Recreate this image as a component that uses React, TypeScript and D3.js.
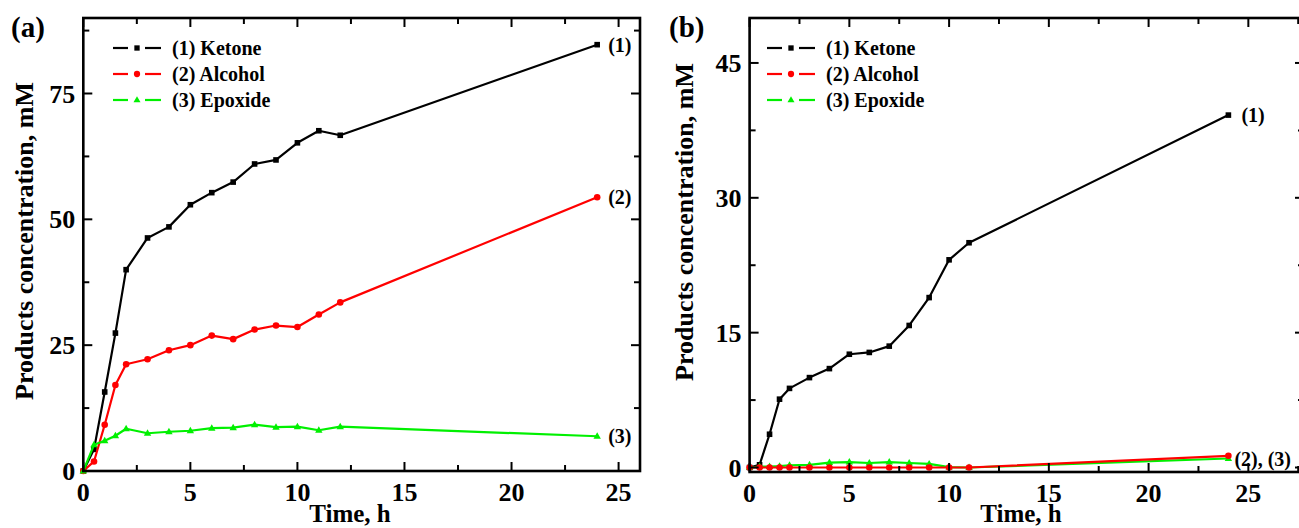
import React from 'react';
import * as d3 from 'd3';

// ---------- DATA ----------
const timesA = [0, 0.5, 1, 1.5, 2, 3, 4, 5, 6, 7, 8, 9, 10, 11, 12, 24];
const ketoneA = [0, 4.3, 15.7, 27.4, 40.0, 46.3, 48.5, 52.9, 55.3, 57.4, 61.0, 61.8, 65.2, 67.6, 66.7, 84.7];
const alcoholA = [0, 1.9, 9.2, 17.1, 21.2, 22.2, 24.0, 25.0, 26.9, 26.2, 28.1, 28.9, 28.6, 31.1, 33.5, 54.4];
const epoxideA = [0, 5.2, 6.0, 7.0, 8.4, 7.5, 7.8, 8.0, 8.5, 8.6, 9.2, 8.7, 8.8, 8.1, 8.8, 6.9];

const timesB = [0, 0.5, 1, 1.5, 2, 3, 4, 5, 6, 7, 8, 9, 10, 11, 24];
const ketoneB = [0, 0.3, 3.7, 7.6, 8.8, 10.0, 11.0, 12.6, 12.8, 13.5, 15.8, 18.9, 23.1, 25.0, 39.2];
const alcoholB = [0, 0, 0, 0, 0, 0, 0, 0, 0, 0, 0, 0, 0, 0, 1.3];
const epoxideB = [0, 0.1, 0.1, 0.15, 0.25, 0.3, 0.55, 0.6, 0.5, 0.6, 0.5, 0.4, 0.05, 0, 1.0];

const seriesNames = ['(1) Ketone', '(2) Alcohol', '(3) Epoxide'];
const xMajorTicks = [0, 5, 10, 15, 20, 25];
const xMinorTicks = [2.5, 7.5, 12.5, 17.5, 22.5, 27.5];
const yMajorA = [0, 25, 50, 75];
const yMinorA = [12.5, 37.5, 62.5, 87.5];
const yMajorB = [0, 15, 30, 45];
const yMinorB = [7.5, 22.5, 37.5];
const xTitle = 'Time, h';
const yTitle = 'Products concentration, mM';

// ---------- STYLE ----------
const FONT = "'Liberation Serif', 'Times New Roman', Times, serif";
const COLORS = ['#000000', '#ff0000', '#00f000'];
const SHAPES = ['square', 'circle', 'triangle'];

function Marker({ shape, x, y, color, size = 1 }: any) {
  if (shape === 'square') {
    const s = 5.6 * size;
    return <rect x={x - s / 2} y={y - s / 2} width={s} height={s} fill={color} />;
  }
  if (shape === 'circle') {
    return <circle cx={x} cy={y} r={3.3 * size} fill={color} />;
  }
  const s = 7.4 * size;
  const h = s * 0.87;
  return (
    <path
      d={`M${x},${y - h * 0.62} L${x + s / 2},${y + h * 0.38} L${x - s / 2},${y + h * 0.38} Z`}
      fill={color}
    />
  );
}

function Panel(props: any) {
  const {
    left, right, top, bottom, xDomain, yDomain, times, series, yMajor, yMinor,
    letter, letterX, yTitleX, yTitleY, xTitleX, legendX, endLabels, drawOrder,
  } = props;
  const x = d3.scaleLinear().domain(xDomain).range([left, right]);
  const y = d3.scaleLinear().domain(yDomain).range([bottom, top]);
  const line = d3
    .line<number>()
    .x((_, i) => x(times[i]))
    .y((d) => y(d));
  const MAJ = 9;
  const MIN = 6;
  const xMinorIn = xMinorTicks.filter((t) => t <= xDomain[1]);

  return (
    <g>
      {/* data */}
      {drawOrder.map((si: number) => (
        <g key={si}>
          <path d={line(series[si]) || ''} fill="none" stroke={COLORS[si]} strokeWidth={2.2} strokeLinejoin="round" />
          {series[si].map((v: number, i: number) => (
            <Marker key={i} shape={SHAPES[si]} x={x(times[i])} y={y(v)} color={COLORS[si]} />
          ))}
        </g>
      ))}

      {/* ticks */}
      {xMajorTicks.map((t) => (
        <g key={'xm' + t}>
          <line x1={x(t)} x2={x(t)} y1={bottom} y2={bottom - MAJ} stroke="#000" strokeWidth={2} />
          <line x1={x(t)} x2={x(t)} y1={top} y2={top + MAJ} stroke="#000" strokeWidth={2} />
          <text x={x(t)} y={bottom + 30} textAnchor="middle" fontFamily={FONT} fontWeight="bold" fontSize={26}>
            {t}
          </text>
        </g>
      ))}
      {xMinorIn.map((t) => (
        <g key={'xn' + t}>
          <line x1={x(t)} x2={x(t)} y1={bottom} y2={bottom - MIN} stroke="#000" strokeWidth={2} />
          <line x1={x(t)} x2={x(t)} y1={top} y2={top + MIN} stroke="#000" strokeWidth={2} />
        </g>
      ))}
      {yMajor.map((t: number) => (
        <g key={'ym' + t}>
          <line x1={left} x2={left + MAJ} y1={y(t)} y2={y(t)} stroke="#000" strokeWidth={2} />
          <line x1={right} x2={right - MAJ} y1={y(t)} y2={y(t)} stroke="#000" strokeWidth={2} />
          <text x={left - 8} y={y(t)} dy="0.35em" textAnchor="end" fontFamily={FONT} fontWeight="bold" fontSize={26}>
            {t}
          </text>
        </g>
      ))}
      {yMinor.map((t: number) => (
        <g key={'yn' + t}>
          <line x1={left} x2={left + MIN} y1={y(t)} y2={y(t)} stroke="#000" strokeWidth={2} />
          <line x1={right} x2={right - MIN} y1={y(t)} y2={y(t)} stroke="#000" strokeWidth={2} />
        </g>
      ))}

      {/* frame */}
      <rect x={left} y={top} width={right - left} height={bottom - top} fill="none" stroke="#000" strokeWidth={2.6} />

      {/* legend */}
      {seriesNames.map((name, i) => {
        const cy = 48 + i * 26;
        return (
          <g key={name}>
            <line x1={legendX} x2={legendX + 15} y1={cy} y2={cy} stroke={COLORS[i]} strokeWidth={2.2} />
            <line x1={legendX + 32} x2={legendX + 48} y1={cy} y2={cy} stroke={COLORS[i]} strokeWidth={2.2} />
            <Marker shape={SHAPES[i]} x={legendX + 24} y={cy} color={COLORS[i]} size={0.95} />
            <text x={legendX + 59} y={cy} dy="0.35em" fontFamily={FONT} fontWeight="bold" fontSize={20}>
              {name}
            </text>
          </g>
        );
      })}

      {/* end labels */}
      {endLabels.map((l: any) => (
        <text
          key={l.text}
          x={x(times[times.length - 1]) + l.dx}
          y={y(series[l.si][series[l.si].length - 1]) + (l.dy || 0)}
          dy="0.35em"
          fontFamily={FONT}
          fontWeight="bold"
          fontSize={20}
        >
          {l.text}
        </text>
      ))}

      {/* titles */}
      <text x={letterX} y={37} fontFamily={FONT} fontWeight="bold" fontSize={29}>
        {letter}
      </text>
      <text x={xTitleX} y={522} textAnchor="middle" fontFamily={FONT} fontWeight="bold" fontSize={25}>
        {xTitle}
      </text>
      <text
        transform={`translate(${yTitleX},${yTitleY}) rotate(-90)`}
        textAnchor="middle"
        fontFamily={FONT}
        fontWeight="bold"
        fontSize={26}
      >
        {yTitle}
      </text>
    </g>
  );
}

export default function App() {
  return (
    <svg
      width={1299}
      height={528}
      viewBox="0 0 1299 528"
      style={{ position: 'absolute', left: 0, top: 0, background: '#fff' }}
    >
      <rect x={0} y={0} width={1299} height={528} fill="#fff" />
      <Panel
        left={83.3}
        right={640}
        top={18}
        bottom={471}
        xDomain={[0, 26]}
        yDomain={[0, 90]}
        times={timesA}
        series={[ketoneA, alcoholA, epoxideA]}
        drawOrder={[0, 1, 2]}
        yMajor={yMajorA}
        yMinor={yMinorA}
        letter="(a)"
        letterX={11}
        yTitleX={33}
        yTitleY={241}
        xTitleX={350}
        legendX={113}
        endLabels={[
          { si: 0, text: '(1)', dx: 11 },
          { si: 1, text: '(2)', dx: 11 },
          { si: 2, text: '(3)', dx: 11 },
        ]}
      />
      <Panel
        left={749.6}
        right={1304}
        top={18}
        bottom={472}
        xDomain={[0, 27.79]}
        yDomain={[-0.5, 50]}
        times={timesB}
        series={[ketoneB, alcoholB, epoxideB]}
        drawOrder={[0, 2, 1]}
        yMajor={yMajorB}
        yMinor={yMinorB}
        letter="(b)"
        letterX={669}
        yTitleX={693}
        yTitleY={222}
        xTitleX={1021}
        legendX={767}
        endLabels={[
          { si: 0, text: '(1)', dx: 13 },
          { si: 1, text: '(2), (3)', dx: 6, dy: 3 },
        ]}
      />
    </svg>
  );
}
